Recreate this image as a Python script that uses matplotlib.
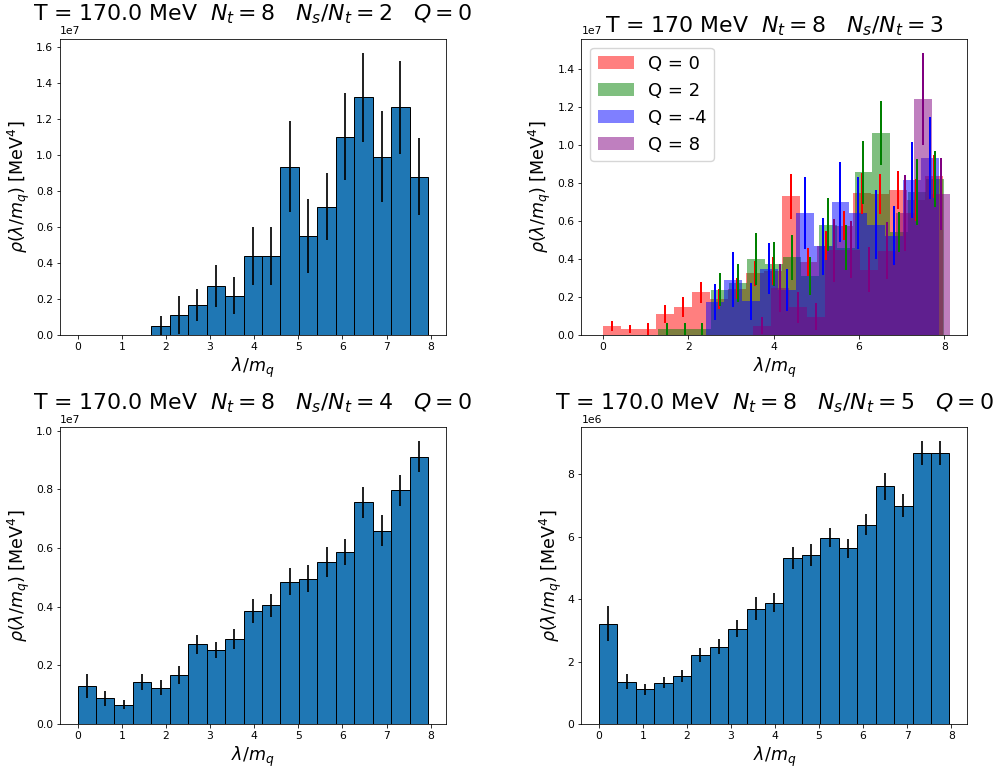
import numpy as np
import matplotlib
matplotlib.use("Agg")
import matplotlib.pyplot as plt

# ── Data (rho values in units of 1e7 or 1e6 MeV^4) ──

# Ns/Nt = 2, Q = 0  (x1e7)
edges_ns2 = np.linspace(0.0, 7.94, 20)
rho_ns2 = [0.0, 0.0, 0.0, 0.0, 0.054, 0.111, 0.167, 0.274, 0.220, 0.441,
           0.441, 0.937, 0.550, 0.715, 1.104, 1.322, 0.993, 1.267, 0.881]
err_ns2 = [0.0, 0.0, 0.0, 0.0, 0.053, 0.106, 0.089, 0.117, 0.104, 0.161,
           0.161, 0.254, 0.206, 0.187, 0.243, 0.248, 0.252, 0.259, 0.213]

# Ns/Nt = 3, several topological sectors  (x1e7)
edges_q0 = np.linspace(0.0, 7.96, 20)
rho_q0 = [0.048, 0.032, 0.032, 0.113, 0.147, 0.225, 0.192, 0.245, 0.325, 0.339,
          0.730, 0.387, 0.470, 0.575, 0.746, 0.742, 0.763, 0.711, 0.835]
err_q0 = [0.026, 0.022, 0.030, 0.046, 0.052, 0.056, 0.052, 0.056, 0.067, 0.073,
          0.120, 0.073, 0.076, 0.076, 0.107, 0.103, 0.098, 0.108, 0.112]

edges_q2 = np.linspace(1.287, 7.991, 17)
rho_q2 = [0.032, 0.032, 0.032, 0.240, 0.276, 0.400, 0.375, 0.409, 0.310, 0.582,
          0.459, 0.856, 1.061, 0.542, 0.754, 0.821]
err_q2 = [0.032, 0.030, 0.032, 0.085, 0.100, 0.135, 0.115, 0.117, 0.100, 0.139,
          0.118, 0.164, 0.168, 0.105, 0.173, 0.147]

edges_qm4 = np.linspace(2.425, 7.872, 14)
rho_qm4 = [0.175, 0.293, 0.178, 0.350, 0.240, 0.642, 0.468, 0.700, 0.641, 0.582,
           0.524, 0.816, 0.932]
err_qm4 = [0.096, 0.146, 0.099, 0.133, 0.110, 0.190, 0.149, 0.210, 0.190, 0.182,
           0.156, 0.198, 0.214]

edges_q8 = np.linspace(3.52, 8.13, 12)
rho_q8 = [0.050, 0.247, 0.146, 0.097, 0.446, 0.449, 0.345, 0.445, 0.642, 1.242,
          0.744]
err_q8 = [0.045, 0.125, 0.082, 0.070, 0.166, 0.150, 0.120, 0.150, 0.200, 0.243,
          0.190]

q_labels = ["Q = 0", "Q = 2", "Q = -4", "Q = 8"]
q_colors = ["red", "green", "blue", "purple"]

# Ns/Nt = 4, Q = 0  (x1e7)
edges_ns4 = np.linspace(0.0, 7.94, 20)
rho_ns4 = [0.128, 0.087, 0.065, 0.142, 0.124, 0.166, 0.271, 0.252, 0.288, 0.385,
           0.404, 0.485, 0.495, 0.553, 0.586, 0.755, 0.659, 0.796, 0.910]
err_ns4 = [0.041, 0.027, 0.015, 0.027, 0.025, 0.031, 0.031, 0.027, 0.034, 0.040,
           0.039, 0.046, 0.046, 0.051, 0.044, 0.052, 0.053, 0.052, 0.053]

# Ns/Nt = 5, Q = 0  (x1e6)
edges_ns5 = np.linspace(0.0, 7.96, 20)
rho_ns5 = [3.22, 1.36, 1.11, 1.32, 1.54, 2.21, 2.48, 3.06, 3.70, 3.89,
           5.32, 5.41, 5.97, 5.63, 6.39, 7.62, 7.00, 8.68, 8.68]
err_ns5 = [0.57, 0.23, 0.17, 0.18, 0.18, 0.22, 0.25, 0.27, 0.36, 0.30,
           0.36, 0.35, 0.31, 0.31, 0.33, 0.44, 0.37, 0.38, 0.38]

# ── Styling (sizes given in pixels, converted to points at 100 dpi) ─────────
PX = 0.72
plt.rcParams.update({
    "font.family": "DejaVu Sans",
    "font.size": 10.7 * PX,
    "axes.linewidth": 0.8 * PX,
    "xtick.major.size": 3.5 * PX,
    "ytick.major.size": 3.5 * PX,
    "xtick.major.width": 0.8 * PX,
    "ytick.major.width": 0.8 * PX,
    "xtick.labelsize": 10.7 * PX,
    "ytick.labelsize": 10.7 * PX,
    "xtick.major.pad": 3.5 * PX,
    "ytick.major.pad": 3.5 * PX,
    "axes.titlesize": 22 * PX,
    "axes.labelsize": 17.5 * PX,
    "legend.fontsize": 18 * PX,
    "axes.titlepad": 6 * PX,
    "axes.labelpad": 4 * PX,
})

XLABEL = r"$\lambda/m_q$"
YLABEL = r"$\rho(\lambda/m_q)$ [MeV$^4$]"


def single_hist(ax, edges, rho, err, scale, title, xticks):
    widths = np.diff(edges)
    ax.bar(edges[:-1], np.array(rho) * scale, width=widths, align="edge",
           color="#1f77b4", edgecolor="black", linewidth=1.0 * PX,
           yerr=np.array(err) * scale, ecolor="black",
           error_kw={"elinewidth": 1.7 * PX})
    ax.set_xticks(xticks)
    ax.set_title(title)
    ax.set_xlabel(XLABEL)
    ax.set_ylabel(YLABEL)


fig, axes = plt.subplots(2, 2, figsize=(10.01, 7.71), dpi=100)
fig.subplots_adjust(left=0.060, right=0.966, top=0.950, bottom=0.061,
                    wspace=0.3525, hspace=0.31)

single_hist(axes[0, 0], edges_ns2, rho_ns2, err_ns2, 1e7,
            r"T = 170.0 MeV  $N_t = 8$   $N_s/N_t = 2$   $Q = 0$", range(9))
single_hist(axes[1, 0], edges_ns4, rho_ns4, err_ns4, 1e7,
            r"T = 170.0 MeV  $N_t = 8$   $N_s/N_t = 4$   $Q = 0$", range(9))
single_hist(axes[1, 1], edges_ns5, rho_ns5, err_ns5, 1e6,
            r"T = 170.0 MeV  $N_t = 8$   $N_s/N_t = 5$   $Q = 0$", range(9))

# overlaid sectors
ax = axes[0, 1]
series = [(edges_q0, rho_q0, err_q0), (edges_q2, rho_q2, err_q2),
          (edges_qm4, rho_qm4, err_qm4), (edges_q8, rho_q8, err_q8)]
for (edges, rho, err), lab, col in zip(series, q_labels, q_colors):
    widths = np.diff(edges)
    ax.bar(edges[:-1], np.array(rho) * 1e7, width=widths, align="edge",
           color=col, alpha=0.5, label=lab,
           yerr=np.array(err) * 1e7, ecolor=col,
           error_kw={"elinewidth": 2.0 * PX})
ax.set_xlim(-0.5, 8.53)
ax.set_xticks([0, 2, 4, 6, 8])
ax.set_title(r"T = 170 MeV  $N_t = 8$   $N_s/N_t = 3$")
ax.set_xlabel(XLABEL)
ax.set_ylabel(YLABEL)
ax.legend(loc="upper left")

fig.savefig("out.png", dpi=100)
